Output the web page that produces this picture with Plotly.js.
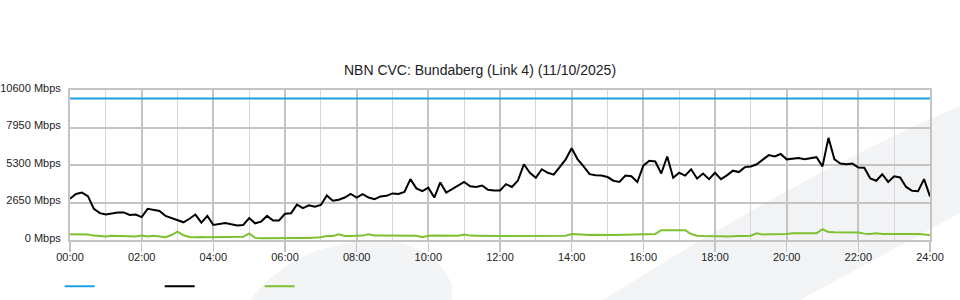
<!DOCTYPE html>
<html>
<head>
<meta charset="utf-8">
<script src="https://cdn.plot.ly/plotly-3.0.1.min.js"></script>
<style>
  html, body { margin: 0; padding: 0; background: #ffffff; }
  #chart { width: 960px; height: 300px; }
</style>
</head>
<body>
<div id="chart"></div>
<script>
// ---- Data (10-minute samples, 00:00 .. 24:00) ----
const chartTitle = "NBN CVC: Bundaberg (Link 4) (11/10/2025)";
const xTickVals = [0, 2, 4, 6, 8, 10, 12, 14, 16, 18, 20, 22, 24];
const xTickText = ["00:00", "02:00", "04:00", "06:00", "08:00", "10:00", "12:00", "14:00", "16:00", "18:00", "20:00", "22:00", "24:00"];
const yTickVals = [0, 2650, 5300, 7950, 10600];
const yTickText = ["0 Mbps", "2650 Mbps", "5300 Mbps", "7950 Mbps", "10600 Mbps"];

const capacityValue = 10000; // Mbps (blue)

const downloadMbps = [ // black
  2910, 3250, 3350, 3100, 2200, 1900,   // 00
  1800, 1900, 1950, 1950, 1770, 1800,   // 01
  1620, 2200, 2100, 2050, 1700, 1550,   // 02
  1450, 1250, 1500, 1800, 1230, 1700,   // 03
  1060, 1150, 1200, 1110, 1030, 1060,   // 04
  1550, 1180, 1300, 1700, 1370, 1380,   // 05
  1850, 1890, 2500, 2250, 2450, 2350,   // 06
  2480, 3150, 2770, 2850, 3000, 3250,   // 07
  3000, 3240, 3000, 2880, 3080, 3120,   // 08
  3290, 3250, 3400, 4300, 3650, 3450,   // 09
  3700, 3000, 4070, 3350, 3600, 3800,   // 10
  4100, 3800, 3740, 3850, 3550, 3500,   // 11
  3500, 3950, 3750, 4200, 5350, 4750,   // 12
  4400, 5000, 4750, 4620, 5200, 5700,   // 13
  6480, 5700, 5200, 4650, 4570, 4550,   // 14
  4450, 4190, 4100, 4550, 4500, 4100,   // 15
  5250, 5600, 5550, 4700, 5900, 4400,   // 16
  4750, 4550, 5000, 4350, 4700, 4300,   // 17
  4750, 4300, 4570, 4900, 4800, 5150,   // 18
  5200, 5350, 5680, 6000, 5900, 6080,   // 19
  5700, 5770, 5800, 5700, 5800, 5850,   // 20
  5200, 7220, 5700, 5400, 5350, 5400,   // 21
  5130, 5100, 4350, 4190, 4650, 4100,   // 22
  4500, 4420, 3750, 3480, 3450, 4300,   // 23
  3080                                  // 24
];

const uploadMbps = [ // green
  400, 400, 400, 390, 310, 300,
  240, 300, 280, 240, 240, 250,
  310, 250, 300, 250, 190, 350,
  590, 330, 220, 190, 220, 190,
  190, 200, 190, 220, 200, 230,
  470, 150, 130, 140, 130, 140,
  140, 150, 140, 150, 140, 160,
  200, 280, 280, 400, 290, 280,
  300, 310, 400, 320, 310, 300,
  310, 300, 310, 300, 300, 200,
  300, 310, 300, 310, 300, 300,
  390, 310, 300, 310, 300, 300,
  290, 280, 280, 280, 280, 280,
  280, 280, 280, 280, 280, 300,
  420, 380, 360, 350, 370, 340,
  360, 350, 360, 380, 360, 390,
  420, 400, 430, 690, 700, 690,
  690, 690, 420, 300, 280, 290,
  260, 270, 240, 280, 280, 290,
  300, 470, 380, 400, 400, 420,
  420, 470, 470, 470, 470, 480,
  760, 560, 540, 550, 540, 550,
  530, 450, 420, 480, 420, 420,
  420, 430, 420, 440, 420, 380,
  350
];

// sample times in hours (every 10 minutes)
const hours = downloadMbps.map((_, i) => i / 6);
const capacityMbps = hours.map(() => capacityValue);
const minorHours = [1, 3, 5, 7, 9, 11, 13, 15, 17, 19, 21, 23];

// ---- Background watermark (decorative) ----
const wm = '<svg xmlns="http://www.w3.org/2000/svg" width="960" height="300" viewBox="0 0 960 300">' +
  '<path d="M603,300 Q813,168 960,106 L960,213 L800,300 Z" fill="#f2f3f5"/>' +
  '<path d="M250,300 C285,255 330,241 380,241 C412,241 440,256 452,285 L452,300 Z" fill="#f3f4f6"/>' +
  '</svg>';
const wmSrc = 'data:image/svg+xml;charset=utf-8,' + encodeURIComponent(wm);

const FONT = '"Liberation Sans", Arial, Helvetica, sans-serif';

const traces = [
  { x: hours, y: capacityMbps, type: 'scatter', mode: 'lines', name: ' ',
    line: { color: '#1ba1e2', width: 2 }, hoverinfo: 'skip' },
  { x: hours, y: downloadMbps, type: 'scatter', mode: 'lines', name: ' ',
    line: { color: '#000000', width: 2 }, hoverinfo: 'skip' },
  { x: hours, y: uploadMbps, type: 'scatter', mode: 'lines', name: ' ',
    line: { color: '#7dc12f', width: 2 }, hoverinfo: 'skip' }
];

const layout = {
  width: 960, height: 300,
  margin: { l: 70, r: 30, t: 90, b: 60, autoexpand: false },
  paper_bgcolor: 'rgba(0,0,0,0)',
  plot_bgcolor: 'rgba(0,0,0,0)',
  font: { family: FONT, size: 11, color: '#222' },
  title: { text: chartTitle, font: { family: FONT, size: 14, color: '#222' },
           x: 0.5, xref: 'container', xanchor: 'center',
           y: 0.766, yref: 'container', yanchor: 'middle', automargin: false },
  images: [{ source: wmSrc, xref: 'paper', yref: 'paper',
             x: -70 / 860, y: 240 / 150, sizex: 960 / 860, sizey: 300 / 150,
             xanchor: 'left', yanchor: 'top', sizing: 'stretch', layer: 'below' }],
  xaxis: {
    range: [0, 24], tickmode: 'array', tickvals: xTickVals, ticktext: xTickText,
    ticks: 'outside', ticklen: 10, tickwidth: 1.5, tickcolor: '#c4c4c4',
    ticklabelstandoff: -4,
    showgrid: true, gridcolor: '#c4c4c4', gridwidth: 2,
    minor: { tickmode: 'array', tickvals: minorHours, showgrid: true, gridcolor: '#d6d6d6', gridwidth: 1, ticks: '' },
    showline: true, linecolor: '#c4c4c4', linewidth: 2, mirror: true, automargin: false,
    zeroline: false, tickfont: { family: FONT, size: 11, color: '#222' }, fixedrange: true
  },
  yaxis: {
    range: [0, 10600], tickmode: 'array', tickvals: yTickVals, ticktext: yTickText,
    ticks: '', ticklabelstandoff: 5, ticklabelshift: -2, automargin: false,
    showgrid: true, gridcolor: '#c4c4c4', gridwidth: 2,
    showline: true, linecolor: '#c4c4c4', linewidth: 2, mirror: true,
    zeroline: false, tickfont: { family: FONT, size: 11, color: '#222' }, fixedrange: true
  },
  showlegend: true,
  legend: { orientation: 'h', x: -0.012, xanchor: 'left', y: -0.211, yanchor: 'top',
            entrywidth: 55, entrywidthmode: 'pixels', itemwidth: 30,
            font: { family: FONT, size: 11 }, bgcolor: 'rgba(0,0,0,0)', itemclick: false, itemdoubleclick: false }
};

Plotly.newPlot('chart', traces, layout, { displayModeBar: false, staticPlot: true });
</script>
</body>
</html>
